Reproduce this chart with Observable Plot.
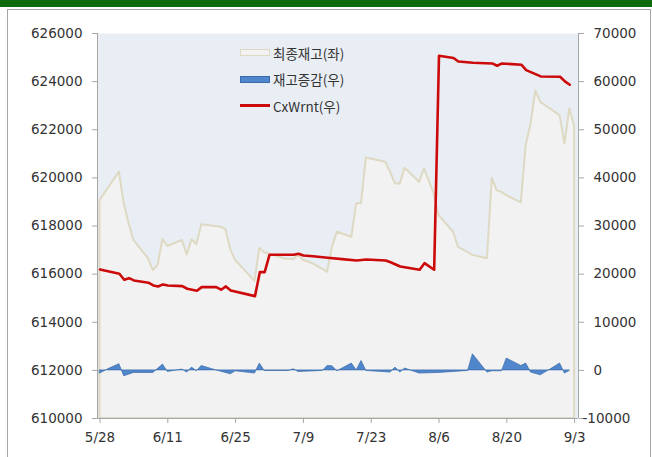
<!DOCTYPE html>
<html><head><meta charset="utf-8">
<script src="https://cdn.jsdelivr.net/npm/d3@7"></script>
<script src="https://cdn.jsdelivr.net/npm/@observablehq/plot@0.6"></script>
<style>
html,body{margin:0;padding:0;background:#fff;}
#wrap{position:relative;width:652px;height:457px;overflow:hidden;background:#fff;}
#topbar{position:absolute;left:0;top:0;width:652px;height:7px;background:#0d6b0d;}
#box{position:absolute;left:7px;top:9px;width:644px;height:470px;border:1px solid #a6a6a6;box-sizing:border-box;}
#chart{position:absolute;left:0;top:0;}
#legend{position:absolute;left:0;top:0;font-family:"Noto Sans CJK KR",sans-serif;font-size:13.5px;color:#333;}
.item{position:absolute;left:240px;height:20px;display:flex;align-items:center;white-space:nowrap;}
.sw{width:30px;height:7px;margin-right:3px;box-sizing:border-box;}
</style></head>
<body><div id="wrap"><div id="topbar"></div><div id="box"></div><div id="chart"></div><div id="legend"></div></div>
<script>
// 최종재고(좌) — left axis
const stockDates = ["5/28","6/1","6/2","6/3","6/4","6/7","6/8","6/9","6/10","6/11","6/14","6/15","6/16","6/17","6/18","6/22","6/23","6/24","6/25","6/29","6/30","7/1","7/5","7/7","7/8","7/9","7/11","7/13","7/14","7/15","7/16","7/19","7/20","7/21","7/22","7/26","7/27","7/28","7/29","7/30","8/2","8/3","8/5","8/6","8/9","8/10","8/13","8/16","8/17","8/18","8/19","8/20","8/23","8/24","8/25","8/26","8/27","8/31","9/1","9/2","9/3"];
const stockValues = [619050,620240,618920,618100,617400,616640,616150,616360,617440,617150,617400,616800,617430,617220,618050,617950,617850,617010,616570,615700,617080,616890,616640,616600,616780,616570,616430,616200,616080,617120,617740,617530,618920,618920,620830,620650,620230,619750,619750,620400,619820,620370,619340,618440,617740,617120,616780,616640,619980,619470,619400,619260,618960,621340,622240,623620,623140,622590,621410,622860,622170];

// 재고증감(우) — right axis
const changeDates = ["5/28","5/30","6/1","6/2","6/4","6/8","6/10","6/11","6/14","6/15","6/16","6/17","6/18","6/21","6/24","6/25","6/29","6/30","7/1","7/6","7/7","7/8","7/13","7/14","7/15","7/16","7/19","7/20","7/21","7/22","7/27","7/28","7/29","7/30","8/2","8/6","8/12","8/13","8/16","8/17","8/19","8/20","8/23","8/24","8/25","8/27","8/29","8/31","9/1","9/2"];
const changeValues = [-660,370,1270,-1220,-540,-540,1200,-330,170,-460,580,-190,910,0,-810,-190,-660,1410,-120,-120,230,-330,-120,910,850,-190,1410,0,1950,-120,-460,580,-460,370,-660,-540,-120,3340,-460,-190,-190,2450,910,1410,-460,-1020,170,1410,-660,-120];

// CxWrnt(우) — right axis
const cxDates = ["5/28","6/1","6/2","6/3","6/4","6/7","6/8","6/9","6/10","6/11","6/14","6/15","6/17","6/18","6/21","6/22","6/23","6/24","6/29","6/30","7/1","7/2","7/7","7/8","7/9","7/11","7/14","7/17","7/20","7/22","7/26","7/27","7/29","8/2","8/3","8/5","8/6","8/9","8/10","8/13","8/17","8/18","8/19","8/23","8/24","8/27","8/31","9/1","9/2"];
const cxValues = [20970,20080,18830,19160,18690,18210,17650,17440,17860,17650,17500,16960,16550,17300,17300,16760,17440,16610,15430,20410,20410,24020,24020,24230,23870,23730,23400,23110,22840,23050,22840,22480,21590,20910,22280,20910,65370,64900,64190,63920,63780,63300,63780,63510,62400,61080,61020,60040,59360];

const xTickLabels = ["5/28","6/11","6/25","7/9","7/23","8/6","8/20","9/3"];
const leftTicks = [610000,612000,614000,616000,618000,620000,622000,624000,626000];
const rightTicks = [-10000,0,10000,20000,30000,40000,50000,60000,70000];

const seriesNames = ["최종재고(좌)","재고증감(우)","CxWrnt(우)"];
const seriesColors = ["#f2f2f2","#4f86cc","#cc0a0a"];
const seriesStrokes = ["#ddd9c3","#3a6aa8","#cc0a0a"];

const parse = s => d3.utcParse("%Y/%m/%d")("2012/" + s);
const toLeft = r => 610000 + (r + 10000) / 5;
const fromLeft = v => Math.round((v - 610000) * 5 - 10000);

const stock = stockDates.map((d, i) => ({date: parse(d), v: stockValues[i]}));
const change = changeDates.map((d, i) => ({date: parse(d), r: changeValues[i]}));
const cx = cxDates.map((d, i) => ({date: parse(d), r: cxValues[i]}));
const xTicks = xTickLabels.map(parse);
const xDomain = [new Date("2012-05-27T11:36:00Z"), new Date("2012-09-03T19:18:00Z")];

const chart = Plot.plot({
  width: 652, height: 457,
  marginLeft: 97, marginRight: 74, marginTop: 33, marginBottom: 39,
  style: {fontFamily: "DejaVu Sans", fontSize: "13.5px", color: "#333", background: "transparent", overflow: "visible"},
  x: {type: "utc", domain: xDomain},
  y: {domain: [610000, 626000]},
  marks: [
    Plot.frame({fill: "#e9edf4", stroke: "none"}),
    Plot.areaY(stock, {x: "date", y1: 610000, y2: "v", fill: seriesColors[0], stroke: seriesStrokes[0], strokeWidth: 2}),
    Plot.areaY(change, {x: "date", y1: toLeft(0), y2: d => toLeft(d.r), fill: seriesColors[1], stroke: seriesStrokes[1], strokeWidth: 0.7}),
    Plot.line(cx, {x: "date", y: d => toLeft(d.r), stroke: seriesColors[2], strokeWidth: 2.6}),
    Plot.ruleX(xDomain, {stroke: "#a6a6a6"}),
    Plot.ruleY([610000], {stroke: "#a6a6a6"}),
    Plot.axisY({anchor: "left", ticks: leftTicks, tickFormat: d => String(d), tickSize: 5, tickPadding: 10, stroke: "#a6a6a6", fill: "#333", label: null}),
    Plot.axisY({anchor: "right", ticks: rightTicks.filter(r => r >= 0).map(toLeft), tickFormat: v => String(fromLeft(v)), tickSize: 5, tickPadding: 10, stroke: "#a6a6a6", fill: "#333", label: null}),
    Plot.axisY({anchor: "right", ticks: rightTicks.filter(r => r < 0).map(toLeft), tickFormat: v => String(fromLeft(v)), tickSize: 5, tickPadding: -1, stroke: "#a6a6a6", fill: "#333", label: null}),
    Plot.axisX({ticks: xTicks, tickFormat: d3.utcFormat("%-m/%-d"), tickSize: 5, tickPadding: 9, stroke: "#a6a6a6", fill: "#333", label: null})
  ]
});
document.getElementById("chart").appendChild(chart);

const legend = document.getElementById("legend");
seriesNames.forEach((name, i) => {
  const item = document.createElement("div");
  item.className = "item";
  item.style.top = (42.5 + i * 26.6) + "px";
  const sw = document.createElement("div");
  sw.className = "sw";
  if (i === 2) { sw.style.height = "3px"; sw.style.background = seriesColors[i]; }
  else { sw.style.background = seriesColors[i]; sw.style.border = "1px solid " + seriesStrokes[i]; }
  const t = document.createElement("span");
  t.textContent = name;
  item.appendChild(sw); item.appendChild(t);
  legend.appendChild(item);
});
</script></body></html>
